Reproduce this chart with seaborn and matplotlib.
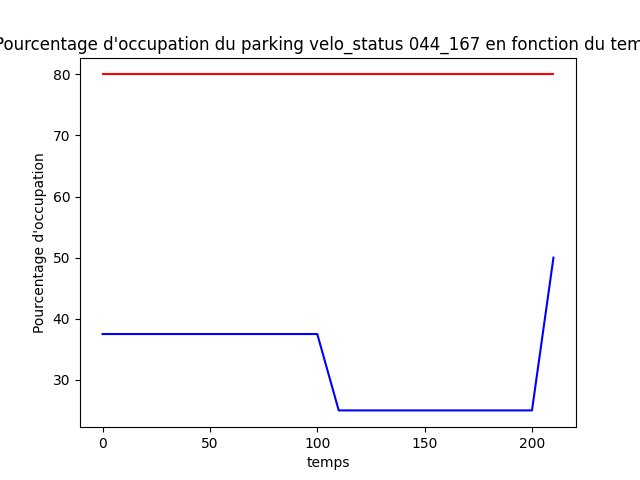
import numpy as np
import pandas as pd
import matplotlib
matplotlib.use('Agg')
import matplotlib.pyplot as plt
import seaborn as sns

temps = [0, 10, 20, 30, 40, 50, 60, 70, 80, 90, 100,
         110, 120, 130, 140, 150, 160, 170, 180, 190, 200, 210]
occupation = [37.5] * 11 + [25] * 10 + [50]
seuil = [80] * len(temps)

df = pd.DataFrame({'temps': temps, 'occupation': occupation, 'seuil': seuil})

fig, ax = plt.subplots(figsize=(6.4, 4.8), dpi=100)
sns.lineplot(data=df, x='temps', y='occupation', color='b', ax=ax)
sns.lineplot(data=df, x='temps', y='seuil', color='r', ax=ax)
ax.set_xlabel('temps')
ax.set_ylabel("Pourcentage d'occupation")
ax.set_title("Pourcentage d'occupation du parking velo_status 044_167 en fonction du temps")
fig.savefig('out.png')
